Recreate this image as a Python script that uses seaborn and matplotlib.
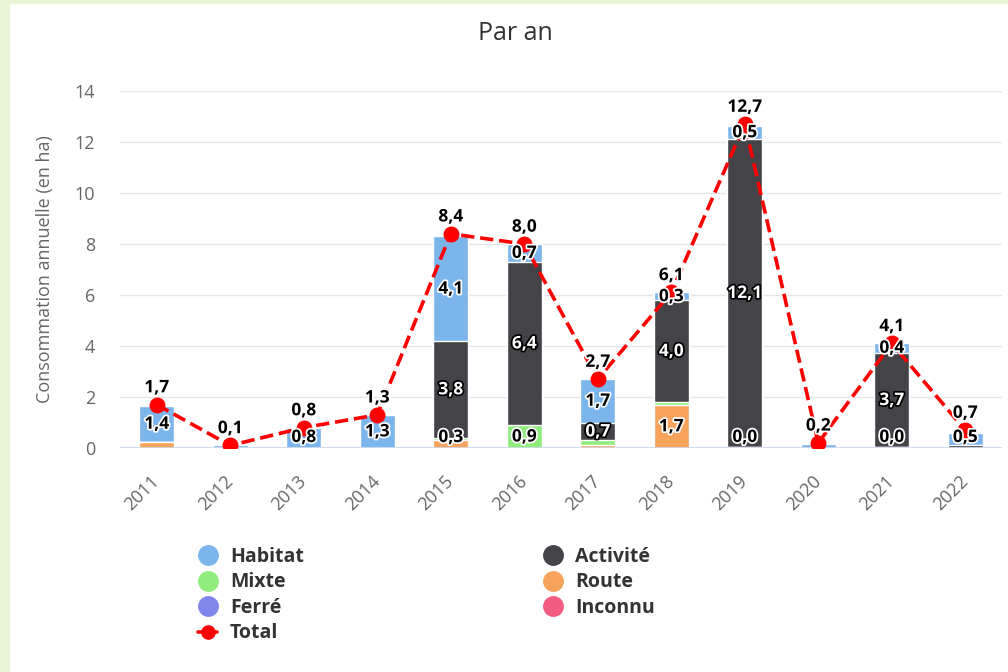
import numpy as np
import matplotlib
matplotlib.use("Agg")
import matplotlib.pyplot as plt
import matplotlib.patheffects as pe
from matplotlib.lines import Line2D
from matplotlib.patches import Rectangle
import seaborn as sns

years = ['2011', '2012', '2013', '2014', '2015', '2016',
         '2017', '2018', '2019', '2020', '2021', '2022']
habitat = [1.4, 0.1, 0.8, 1.3, 4.1, 0.7, 1.7, 0.3, 0.5, 0.15, 0.4, 0.5]
activite = [0, 0, 0, 0, 3.8, 6.4, 0.7, 4.0, 12.1, 0, 3.7, 0.1]
mixte = [0, 0, 0, 0, 0.1, 0.9, 0.2, 0.1, 0, 0, 0, 0]
route = [0.25, 0, 0, 0, 0.3, 0, 0.1, 1.7, 0.03, 0, 0.03, 0]
ferre = [0] * 12
inconnu = [0] * 12
total = [1.7, 0.1, 0.8, 1.3, 8.4, 8.0, 2.7, 6.1, 12.7, 0.2, 4.1, 0.7]

# stacking order, bottom -> top
series = [
    ('Inconnu', inconnu, '#f15c80'),
    ('Ferré', ferre, '#8085e9'),
    ('Route', route, '#f7a35c'),
    ('Mixte', mixte, '#90ed7d'),
    ('Activité', activite, '#434348'),
    ('Habitat', habitat, '#7cb5ec'),
]

sns.set_style('white')
plt.rcParams['font.family'] = ['Open Sans', 'DejaVu Sans']

fig = plt.figure(figsize=(10.08, 6.72), dpi=100)
fig.patches.append(Rectangle((0, 0), 9 / 1008, 1, transform=fig.transFigure,
                             color='#e9f5d6', zorder=-1))
fig.patches.append(Rectangle((0, 1 - 3 / 672), 1, 3 / 672, transform=fig.transFigure,
                             color='#e9f5d6', zorder=-1))
ax = fig.add_axes([120 / 1008, 1 - 448 / 672, 882 / 1008, 357 / 672])

vals = np.array([s[1] for s in series], dtype=float)
cum = np.cumsum(vals, axis=0)

# overlapping cumulative bars, tallest first
for i in reversed(range(len(series))):
    if vals[i].sum() == 0:
        continue
    sns.barplot(x=years, y=cum[i], color=series[i][2], saturation=1, width=0.48,
                edgecolor='white', linewidth=1, ax=ax)

ax.axhline(0, color='#ccd6eb', lw=1.2, zorder=1.5)

sns.pointplot(x=years, y=total, color='#ff0000', markers='o', linestyles='--',
              linewidth=2.6, markersize=9.5, ax=ax)
for ln in ax.lines:
    ln.set_zorder(4)

# segment labels
for i, (name, v, c) in enumerate(series):
    if name == 'Activité':
        fc, ec = 'white', 'black'
    else:
        fc, ec = 'black', 'white'
    for j, val in enumerate(v):
        if val >= 0.3 or 0 < val < 0.05:
            bottom = cum[i][j] - val
            y = max(bottom + val / 2, 0.43)
            ax.text(j, y, f'{val:.1f}'.replace('.', ','), ha='center', va='center',
                    fontsize=12.5, fontweight='bold', color=fc, zorder=5,
                    path_effects=[pe.withStroke(linewidth=2.5, foreground=ec)])

for j, t in enumerate(total):
    ax.annotate(f'{t:.1f}'.replace('.', ','), xy=(j, t), xytext=(0, 6),
                textcoords='offset points', ha='center', va='bottom',
                fontsize=12.5, fontweight='bold', color='black', zorder=6,
                path_effects=[pe.withStroke(linewidth=2.5, foreground='white')])

ax.set_xlim(-0.5, 11.5)
ax.set_ylim(0, 14)
ax.set_yticks(range(0, 15, 2))
ax.yaxis.grid(True, color='#e6e6e6', lw=1)
ax.set_axisbelow(True)
sns.despine(ax=ax, left=True, bottom=True)
ax.tick_params(axis='y', length=0, pad=18, labelsize=13, labelcolor='#666666')
ax.tick_params(axis='x', length=0, pad=22, labelsize=13, labelcolor='#666666')
for lbl in ax.get_xticklabels():
    lbl.set_rotation(45)
    lbl.set_ha('right')
    lbl.set_va('center')
    lbl.set_rotation_mode('anchor')
ax.set_xlabel('')
ax.set_ylabel('Consommation annuelle (en ha)', fontsize=13, color='#666666')
ax.yaxis.set_label_coords((45 - 120) / 882, 0.5)
ax.yaxis.label.set_va('center')

fig.text(515 / 1008, 1 - 33 / 672, 'Par an', ha='center', va='center', fontsize=18,
         color='#333333', family=['Liberation Sans Narrow', 'Open Sans', 'DejaVu Sans'])

colors = {s[0]: s[2] for s in series}
order = ['Habitat', 'Mixte', 'Ferré', 'Total', 'Activité', 'Route', 'Inconnu']
handles = []
for name in order:
    if name == 'Total':
        handles.append(Line2D([], [], color='#ff0000', lw=2.6, marker='o',
                              markersize=9.5, label=name))
    else:
        handles.append(Line2D([], [], color=colors[name], marker='o', linestyle='none',
                              markersize=14, label=name))
fig.legend(handles=handles, loc='upper left', bbox_to_anchor=(198 / 1008, 1 - 547 / 672),
           ncol=2, frameon=False, prop={'weight': 'bold', 'size': 14},
           labelcolor='#333333', handlelength=1.0, handletextpad=0.65,
           columnspacing=12.3, labelspacing=0.28, borderpad=0, borderaxespad=0)

fig.savefig('out.png', dpi=100)
